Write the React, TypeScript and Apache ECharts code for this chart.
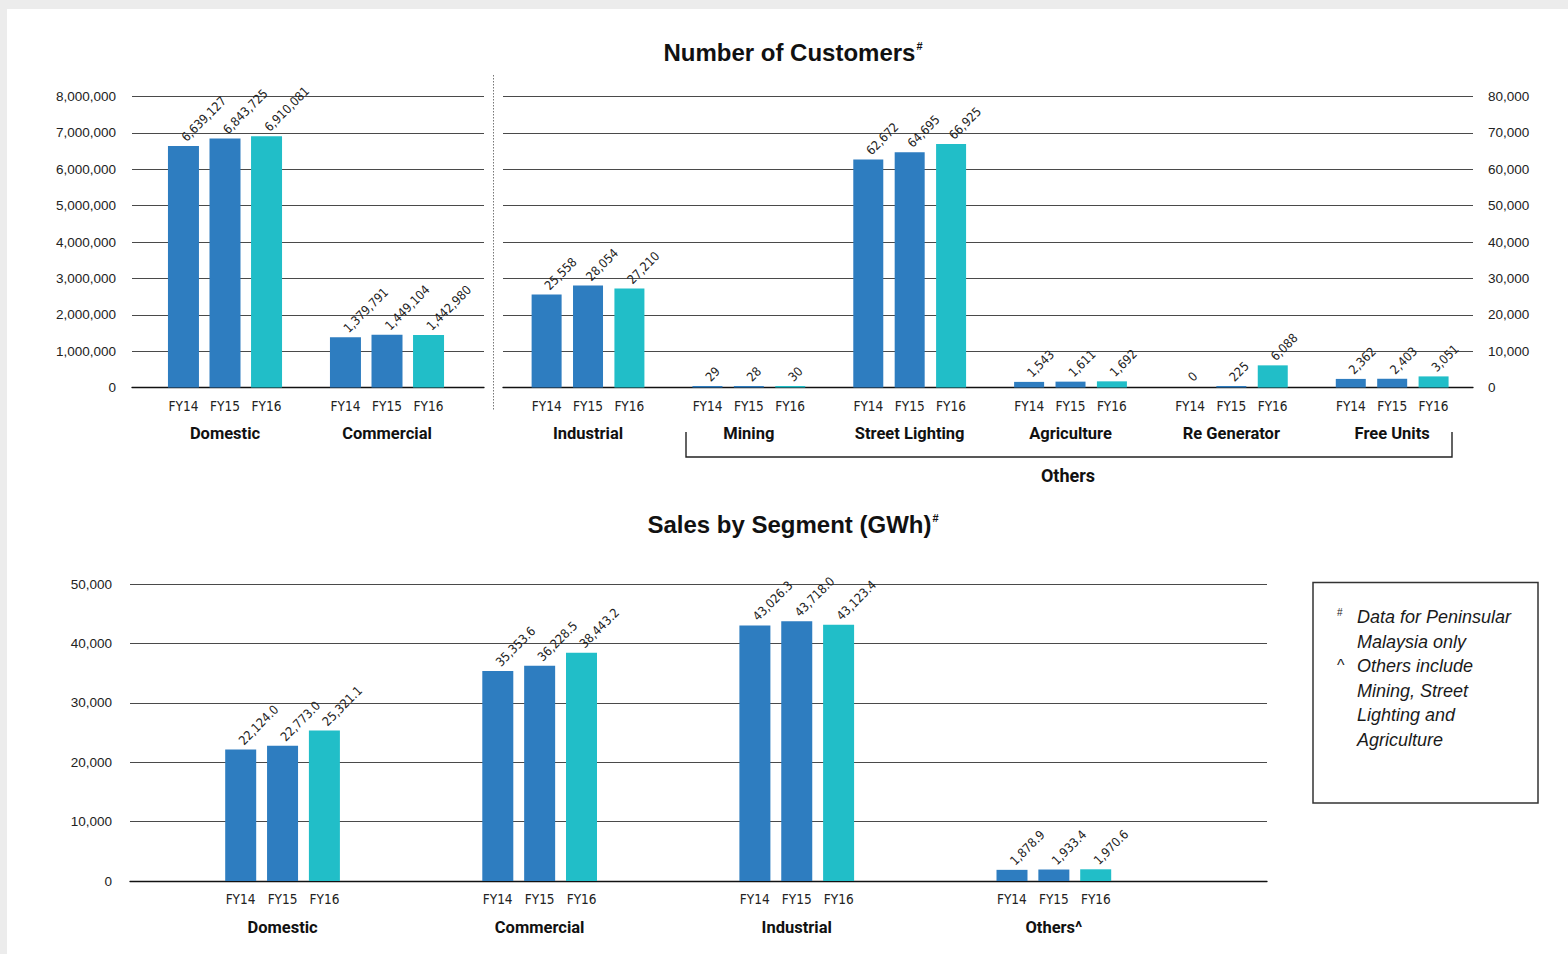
import React, { useEffect, useRef } from "react";
import * as echarts from "echarts";

// ---------- data ----------
const FY = ["FY14", "FY15", "FY16"];

const custLeftGroups = ["Domestic", "Commercial"];
const custLeftFY14 = [6639127, 1379791];
const custLeftFY15 = [6843725, 1449104];
const custLeftFY16 = [6910081, 1442980];
const custLeftMax = 8000000;
const custLeftStep = 1000000;

const custRightGroups = ["Industrial", "Mining", "Street Lighting", "Agriculture", "Re Generator", "Free Units"];
const custRightFY14 = [25558, 29, 62672, 1543, 0, 2362];
const custRightFY15 = [28054, 28, 64695, 1611, 225, 2403];
const custRightFY16 = [27210, 30, 66925, 1692, 6088, 3051];
const custRightMax = 80000;
const custRightStep = 10000;

const salesGroups = ["Domestic", "Commercial", "Industrial", "Others^"];
const salesFY14 = [22124.0, 35353.6, 43026.3, 1878.9];
const salesFY15 = [22773.0, 36228.5, 43718.0, 1933.4];
const salesFY16 = [25321.1, 38443.2, 43123.4, 1970.6];
const salesMax = 50000;
const salesStep = 10000;

const notes = [
  { mark: "#", lines: ["Data for Peninsular", "Malaysia only"] },
  { mark: "^", lines: ["Others include", "Mining, Street", "Lighting and", "Agriculture"] },
];

// ---------- styles ----------
const BLUE = "#2e7dc0";
const TEAL = "#21bec8";
const FY_COLORS = [BLUE, BLUE, TEAL];
const COND = "'DejaVu Sans Condensed', 'Liberation Sans Narrow', Roboto, sans-serif";
const GROUPF = "Roboto, 'Liberation Sans', sans-serif";
const SANS = "'Liberation Sans', Arial, Helvetica, sans-serif";
const GRID_COLOR = "#4a4a4a";

const fmtInt = (v: number) => Math.round(v).toLocaleString("en-US");
const fmt1 = (v: number) =>
  v.toLocaleString("en-US", { minimumFractionDigits: 1, maximumFractionDigits: 1 });

function lineGridAxes(gridIndex: number, max: number, step: number, pos: "left" | "right", margin: number) {
  const x = {
    type: "value",
    gridIndex,
    min: 0,
    max: 1,
    axisLine: { show: true, onZero: false, lineStyle: { color: "#111", width: 1.3 } },
    axisTick: { show: false },
    axisLabel: { show: false },
    splitLine: { show: false },
  };
  const y = {
    type: "value",
    gridIndex,
    position: pos,
    min: 0,
    max,
    interval: step,
    axisLine: { show: false },
    axisTick: { show: false },
    axisLabel: {
      margin,
      color: "#222",
      fontFamily: SANS,
      fontSize: 13.5,
      formatter: (v: number) => fmtInt(v),
    },
    splitLine: { show: true, lineStyle: { color: GRID_COLOR, width: 1.2 } },
  };
  return { x, y };
}

function barGridAxes(gridIndex: number, groups: string[], max: number, spacing: number) {
  const x = {
    type: "category",
    gridIndex,
    data: groups,
    axisLine: { show: false },
    axisTick: { show: false },
    splitLine: { show: false },
    axisLabel: {
      interval: 0,
      margin: 8,
      formatter: (v: string) => FY.map((f) => `{fy|${f}}`).join("") + `\n{g|${v}}`,
      rich: {
        fy: {
          width: spacing,
          align: "center",
          fontFamily: COND,
          fontSize: 13.5,
          color: "#222",
          lineHeight: 20,
        },
        g: {
          fontFamily: GROUPF,
          fontWeight: "bold",
          fontSize: 16.5,
          color: "#111",
          lineHeight: 36,
        },
      },
    },
  };
  const y = { type: "value", gridIndex, min: 0, max, show: false, splitLine: { show: false } };
  return { x, y };
}

function barSeries(
  axisIndex: number,
  name: string,
  data: number[],
  color: string,
  fmt: (v: number) => string,
  barWidth: number,
  barGap: string
) {
  return {
    type: "bar",
    name,
    xAxisIndex: axisIndex,
    yAxisIndex: axisIndex,
    data: data.map((v) => (v === 0 ? { value: v, itemStyle: { color: "transparent" } } : v)),
    barWidth,
    barGap,
    barMinHeight: 1.5,
    itemStyle: { color },
    label: {
      show: true,
      position: "top",
      distance: 7,
      rotate: 45,
      align: "left",
      verticalAlign: "middle",
      color: "#222",
      fontFamily: COND,
      fontSize: 12.5,
      formatter: (p: any) => fmt(p.value as number),
    },
  };
}

export default function App() {
  const ref = useRef<HTMLDivElement>(null);

  useEffect(() => {
    if (!ref.current) return;
    const chart = echarts.init(ref.current, null, { renderer: "svg" });

    const TOP = 96.5;
    const TOP_H = 291;
    const B_TOP = 584;
    const B_H = 297;

    const grids = [
      { left: 132, top: TOP, width: 352, height: TOP_H }, // 0 left lines
      { left: 144, top: TOP, width: 324, height: TOP_H }, // 1 left bars
      { left: 503, top: TOP, width: 970, height: TOP_H }, // 2 right lines
      { left: 507.6, top: TOP, width: 965, height: TOP_H }, // 3 right bars
      { left: 130, top: B_TOP, width: 1137, height: B_H }, // 4 bottom lines
      { left: 154, top: B_TOP, width: 1028.4, height: B_H }, // 5 bottom bars
    ];

    const a0 = lineGridAxes(0, custLeftMax, custLeftStep, "left", 16);
    const a1 = barGridAxes(1, custLeftGroups, custLeftMax, 41.5);
    const a2 = lineGridAxes(2, custRightMax, custRightStep, "right", 15);
    const a3 = barGridAxes(3, custRightGroups, custRightMax, 41.3);
    const a4 = lineGridAxes(4, salesMax, salesStep, "left", 18);
    const a5 = barGridAxes(5, salesGroups, salesMax, 42);

    const leftData = [custLeftFY14, custLeftFY15, custLeftFY16];
    const rightData = [custRightFY14, custRightFY15, custRightFY16];
    const salesData = [salesFY14, salesFY15, salesFY16];

    const series: any[] = [];
    FY.forEach((f, i) => {
      series.push(barSeries(1, f, leftData[i], FY_COLORS[i], fmtInt, 31, "34%"));
      series.push(barSeries(3, f, rightData[i], FY_COLORS[i], fmtInt, 30, "38%"));
      series.push(barSeries(5, f, salesData[i], FY_COLORS[i], fmt1, 31, "35%"));
    });

    const titleRich = {
      t: { fontFamily: SANS, fontWeight: "bold", fontSize: 24, fill: "#111", color: "#111" },
      s: { fontFamily: SANS, fontWeight: "bold", fontSize: 11, fill: "#111", color: "#111", padding: [0, 0, 13, 1] },
    };

    const noteTexts: any[] = [];
    let lineIdx = 0;
    notes.forEach((n) => {
      noteTexts.push({
        type: "text",
        style: {
          x: 1337,
          y: 617 + lineIdx * 24.6 + (n.mark === "#" ? -5 : -1),
          text: n.mark,
          fill: "#222",
          font: n.mark === "#" ? `10px ${SANS}` : `16px ${SANS}`,
          textAlign: "left",
          textVerticalAlign: "middle",
          align: "left",
          verticalAlign: "middle",
        },
      });
      n.lines.forEach((ln) => {
        noteTexts.push({
          type: "text",
          style: {
            x: 1357,
            y: 617 + lineIdx * 24.6,
            text: ln,
            fill: "#1a1a1a",
            font: `italic 18px ${SANS}`,
            textAlign: "left",
            textVerticalAlign: "middle",
            align: "left",
            verticalAlign: "middle",
          },
        });
        lineIdx++;
      });
    });

    chart.setOption({
      animation: false,
      backgroundColor: "transparent",
      grid: grids,
      xAxis: [a0.x, a1.x, a2.x, a3.x, a4.x, a5.x],
      yAxis: [a0.y, a1.y, a2.y, a3.y, a4.y, a5.y],
      series,
      graphic: [
        {
          type: "text",
          style: {
            x: 793,
            y: 52,
            text: "{t|Number of Customers}{s|#}",
            rich: titleRich,
            textAlign: "center",
            textVerticalAlign: "middle",
            align: "center",
            verticalAlign: "middle",
          },
        },
        {
          type: "text",
          style: {
            x: 793,
            y: 524,
            text: "{t|Sales by Segment (GWh)}{s|#}",
            rich: titleRich,
            textAlign: "center",
            textVerticalAlign: "middle",
            align: "center",
            verticalAlign: "middle",
          },
        },
        {
          type: "line",
          shape: { x1: 493.5, y1: 75, x2: 493.5, y2: 410 },
          style: { stroke: "#777", lineWidth: 1, lineDash: [1.5, 1.5] },
        },
        {
          type: "polyline",
          shape: { points: [[686, 432], [686, 457], [1452, 457], [1452, 432]] },
          style: { stroke: "#222", lineWidth: 1.4, fill: null },
        },
        {
          type: "text",
          style: {
            x: 1068,
            y: 475,
            text: "Others",
            fill: "#111",
            font: `bold 18px ${GROUPF}`,
            textAlign: "center",
            textVerticalAlign: "middle",
            align: "center",
            verticalAlign: "middle",
          },
        },
        {
          type: "rect",
          shape: { x: 1313, y: 582.5, width: 225, height: 220.5 },
          style: { stroke: "#333", lineWidth: 1.5, fill: "#fff" },
        },
        ...noteTexts,
      ],
    });

    return () => chart.dispose();
  }, []);

  return (
    <div style={{ position: "fixed", left: 0, top: 0, width: 1568, height: 954, background: "#ececec" }}>
      <div style={{ position: "absolute", left: 7, top: 9, right: 0, bottom: 0, background: "#ffffff" }} />
      <div ref={ref} style={{ position: "absolute", left: 0, top: 0, width: 1568, height: 954 }} />
    </div>
  );
}
